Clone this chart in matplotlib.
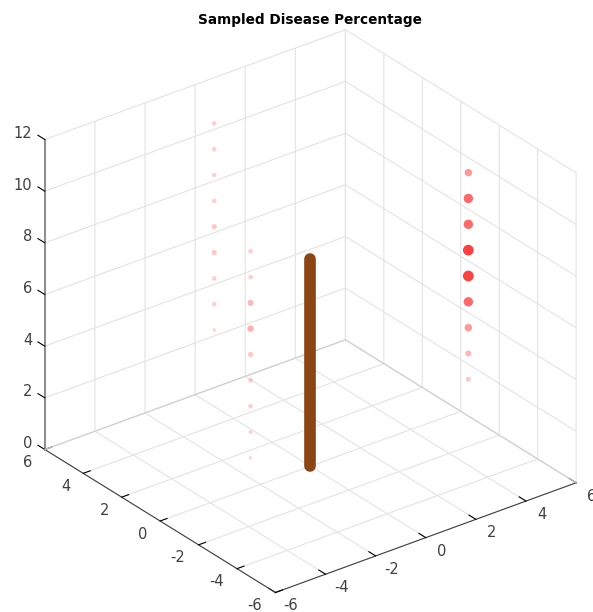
import numpy as np
import matplotlib
matplotlib.use('Agg')
import matplotlib.pyplot as plt
from mpl_toolkits.mplot3d import Axes3D, proj3d

# values
line_x = [0, 0]
line_y = [0, 0]
line_z = [0, 8]

xs = [4.0] * 9 + [-1.24] * 9 + [-0.45] * 9
ys = [-3.0] * 9 + [1.5] * 9 + [4.42] * 9
zs = [3.33, 4.33, 5.33, 6.33, 7.33, 8.33, 9.33, 10.33, 11.33,
      0.07, 1.07, 2.07, 3.07, 4.07, 5.07, 6.07, 7.07, 8.07,
      3.39, 4.39, 5.39, 6.39, 7.39, 8.39, 9.39, 10.39, 11.39]
percent = [18, 28, 46, 75, 100, 100, 75, 75, 46,
           8, 11, 14, 14, 19, 32, 28, 14, 14,
           8, 14, 14, 19, 19, 14, 14, 14, 14]

ticks = [-6, -4, -2, 0, 2, 4, 6]
zticks = [0, 2, 4, 6, 8, 10, 12]
text_color = '#404040'

fig = plt.figure(figsize=(5.93, 6.12), dpi=100)
ax = fig.add_axes([0.01, -0.0215, 1, 1], projection='3d', proj_type='ortho')
ax.view_init(elev=28.4, azim=-127.5)
ax.set_box_aspect((1, 1, 0.93), zoom=1.05)
ax.set_xlim(-6, 6, view_margin=0)
ax.set_ylim(-6, 6, view_margin=0)
ax.set_zlim(0, 12, view_margin=0)
ax.set_xticks(ticks)
ax.set_yticks(ticks)
ax.set_zticks(zticks)
ax.set_xticklabels([])
ax.set_yticklabels([])
ax.set_zticklabels([])

for axis, tick_len in [(ax.xaxis, 0.37), (ax.yaxis, 0.29), (ax.zaxis, 0.37)]:
    axis.set_pane_color((1, 1, 1, 0))
    axis.pane.set_edgecolor('#e3e3e3')
    axis._axinfo['grid'].update(color='#e3e3e3', linewidth=0.8)
    axis._axinfo['tick'].update(inward_factor=0.0, outward_factor=tick_len, linewidth={True: 0.8, False: 0.5}, color=text_color)
    axis.line.set_color(text_color)
    axis.line.set_linewidth(0.8)
ax.zaxis.line.set_color('#909090')
ax.zaxis.line.set_linewidth(1.5)
# z ticks point along +y in the original
ax.zaxis._get_tickdir = lambda pos: 1

# floor edges at the back are darker than the grid
ax.plot([-6, 6, 6], [6, 6, -6], [0, 0, 0], color='#d0d0d0', linewidth=0.8)

colors = [(1, 0, 0, 0.1 + 0.0065 * p) for p in percent]
ax.scatter(xs, ys, zs, s=[3 + 0.57 * p for p in percent], c=colors, linewidths=0, depthshade=False)
ax.plot(line_x, line_y, line_z, color='#8b4513', linewidth=8.4, solid_capstyle='round')


def tick_label(x, y, z, label, dx, dy, ha='center'):
    px, py, _ = proj3d.proj_transform(x, y, z, ax.get_proj())
    ax.annotate(label, xy=(px, py), xytext=(dx, dy), textcoords='offset pixels', ha=ha, va='center',
                fontsize=10.5, color=text_color, annotation_clip=False)


for t in ticks:
    tick_label(t, -6, 0, str(t), 15.5, -13.5)
    tick_label(-6, t, 0, str(t), -17.5 if t >= 0 else -20.5, -13)
for t in zticks:
    tick_label(-6, 6, t, str(t), -12.7, 6, ha='right')

fig.text(0.523, 0.968, 'Sampled Disease Percentage', ha='center', va='center', fontsize=9.8, fontweight='bold')
fig.savefig('out.png', dpi=100)
